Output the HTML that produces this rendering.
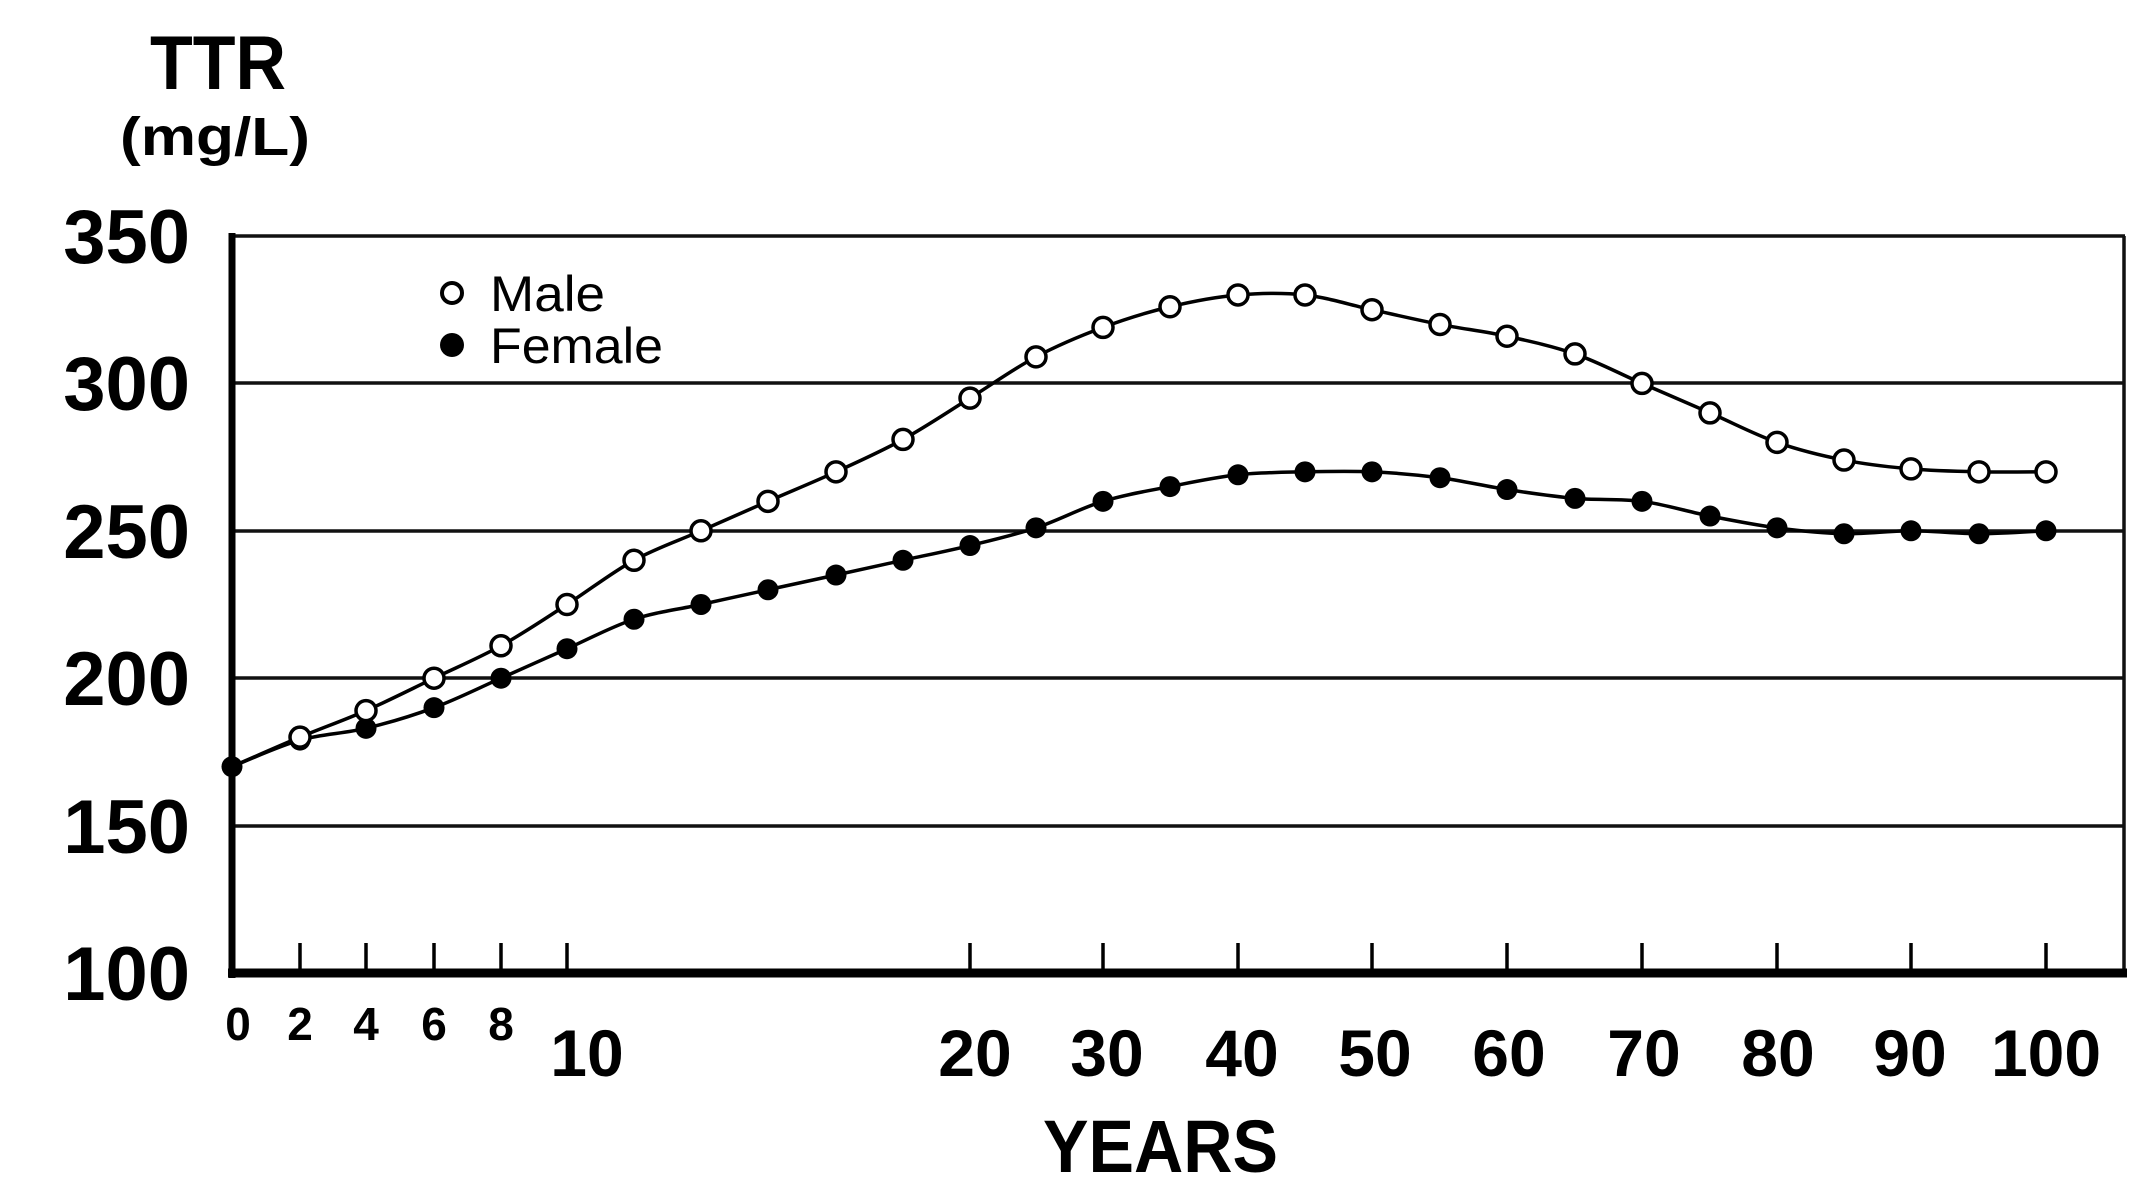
<!DOCTYPE html>
<html><head><meta charset="utf-8"><style>
html,body{margin:0;padding:0;background:#fff;}
svg{display:block;}
text{font-family:"Liberation Sans",sans-serif;fill:#000;}
</style></head><body>
<svg width="2148" height="1196" viewBox="0 0 2148 1196" xmlns="http://www.w3.org/2000/svg">
<rect width="2148" height="1196" fill="#fff"/>
<text x="150" y="89" font-size="76" font-weight="bold" textLength="136" lengthAdjust="spacingAndGlyphs">TTR</text>
<text x="120" y="155" font-size="54" font-weight="bold" textLength="190" lengthAdjust="spacingAndGlyphs">(mg/L)</text>
<g stroke="#111" stroke-width="3.5">
<line x1="232" y1="236" x2="2125" y2="236"/>
<line x1="232" y1="383" x2="2125" y2="383"/>
<line x1="232" y1="531" x2="2125" y2="531"/>
<line x1="232" y1="678" x2="2125" y2="678"/>
<line x1="232" y1="826" x2="2125" y2="826"/>
<line x1="2124" y1="236" x2="2124" y2="975"/>
</g>
<line x1="232" y1="233" x2="232" y2="978" stroke="#000" stroke-width="7"/>
<line x1="228" y1="973" x2="2127" y2="973" stroke="#000" stroke-width="9"/>
<g stroke="#000" stroke-width="3.5">
<line x1="300" y1="973" x2="300" y2="943"/><line x1="366" y1="973" x2="366" y2="943"/><line x1="434" y1="973" x2="434" y2="943"/><line x1="501" y1="973" x2="501" y2="943"/><line x1="567" y1="973" x2="567" y2="943"/><line x1="970" y1="973" x2="970" y2="943"/><line x1="1103" y1="973" x2="1103" y2="943"/><line x1="1238" y1="973" x2="1238" y2="943"/><line x1="1372" y1="973" x2="1372" y2="943"/><line x1="1507" y1="973" x2="1507" y2="943"/><line x1="1642" y1="973" x2="1642" y2="943"/><line x1="1777" y1="973" x2="1777" y2="943"/><line x1="1911" y1="973" x2="1911" y2="943"/><line x1="2046" y1="973" x2="2046" y2="943"/>
</g>
<g font-size="76" font-weight="bold" text-anchor="end">
<text x="190" y="263">350</text><text x="190" y="410">300</text><text x="190" y="558">250</text><text x="190" y="705">200</text><text x="190" y="853">150</text><text x="190" y="1000">100</text>
</g>
<g font-size="46" font-weight="bold" text-anchor="middle">
<text x="238" y="1040">0</text><text x="300" y="1040">2</text><text x="366" y="1040">4</text><text x="434" y="1040">6</text><text x="501" y="1040">8</text>
</g>
<g font-size="66" font-weight="bold" text-anchor="middle">
<text x="587" y="1076">10</text><text x="975" y="1076">20</text><text x="1107" y="1076">30</text><text x="1242" y="1076">40</text><text x="1375" y="1076">50</text><text x="1509" y="1076">60</text><text x="1644" y="1076">70</text><text x="1778" y="1076">80</text><text x="1910" y="1076">90</text><text x="2046" y="1076">100</text>
</g>
<text x="1043" y="1172" font-size="74" font-weight="bold" textLength="235" lengthAdjust="spacingAndGlyphs">YEARS</text>
<circle cx="452" cy="293" r="10" fill="#fff" stroke="#000" stroke-width="4"/>
<circle cx="452" cy="345" r="12" fill="#000"/>
<text x="490" y="311" font-size="50" textLength="115" lengthAdjust="spacingAndGlyphs">Male</text>
<text x="490" y="363" font-size="50" textLength="173" lengthAdjust="spacingAndGlyphs">Female</text>
<g id="plot"></g>
</svg>
<script>
var xs=[232,300,366,434,501,567,634,701,768,836,903,970,1036,1103,1170,1238,1305,1372,1440,1507,1575,1642,1710,1777,1844,1911,1979,2046];
var m=[170,180,189,200,211,225,240,250,260,270,281,295,309,319,326,330,330,325,320,316,310,300,290,280,274,271,270,270];
var f=[170,179,183,190,200,210,220,225,230,235,240,245,251,260,265,269,270,270,268,264,261,260,255,251,249,250,249,250];
function Y(v){return 973-2.948*(v-100);}
function path(a){var p=xs.map(function(x,i){return [x,Y(a[i])];});var d="M"+p[0][0]+" "+p[0][1];
for(var i=0;i<p.length-1;i++){var p0=p[i-1]||p[i],p1=p[i],p2=p[i+1],p3=p[i+2]||p2;
d+=" C"+(p1[0]+(p2[0]-p0[0])/6)+" "+(p1[1]+(p2[1]-p0[1])/6)+" "+(p2[0]-(p3[0]-p1[0])/6)+" "+(p2[1]-(p3[1]-p1[1])/6)+" "+p2[0]+" "+p2[1];}return d;}
var ns="http://www.w3.org/2000/svg",g=document.getElementById("plot");
function el(t,a){var e=document.createElementNS(ns,t);for(var k in a)e.setAttribute(k,a[k]);g.appendChild(e);}
el("path",{d:path(m),fill:"none",stroke:"#000","stroke-width":3.5});
el("path",{d:path(f),fill:"none",stroke:"#000","stroke-width":3.5});
xs.forEach(function(x,i){el("circle",{cx:x,cy:Y(f[i]),r:10.5,fill:"#000"});});
xs.forEach(function(x,i){if(i>0)el("circle",{cx:x,cy:Y(m[i]),r:10,fill:"#fff",stroke:"#000","stroke-width":3.5});});
</script>
</body></html>
